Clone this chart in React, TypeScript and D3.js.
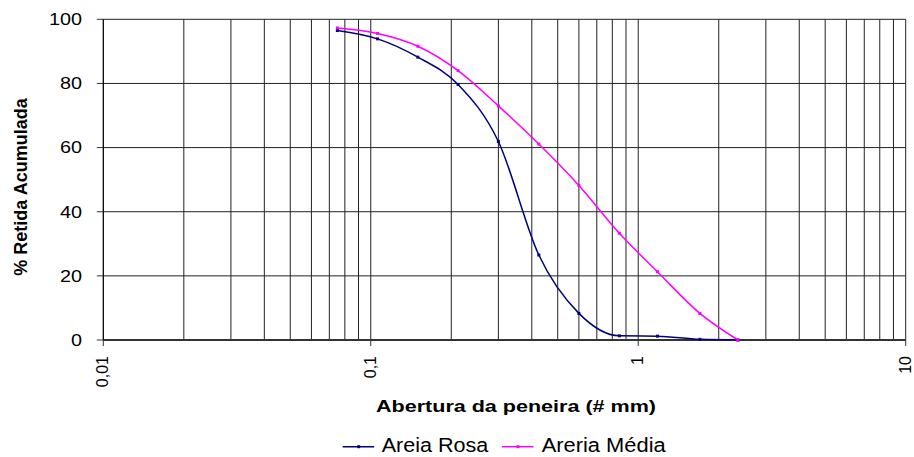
import React from "react";
import * as d3 from "d3";

// sieve openings (mm)
const sieves = [0.075, 0.106, 0.15, 0.212, 0.3, 0.425, 0.6, 0.85, 1.18, 1.7, 2.36];
const areiaRosa = [96.5, 93.9, 88.2, 79.7, 61.9, 26.5, 8.3, 1.3, 1.2, 0.2, 0];
const areiaMedia = [97.3, 95.6, 91.6, 84.0, 73.0, 61.1, 48.2, 33.3, 21.3, 8.3, 0];

const yTicks = [0, 20, 40, 60, 80, 100];
const xMajor = [0.01, 0.1, 1, 10];
const xLabels = ["0,01", "0,1", "1", "10"];

const series = [
  { name: "Areia Rosa", values: areiaRosa, color: "#000080" },
  { name: "Areria Média", values: areiaMedia, color: "#FF00FF" },
];

const W = 914;
const H = 457;
const font = "'Liberation Sans', Arial, Helvetica, sans-serif";

export default function App() {
  const x = d3.scaleLog().domain([0.01, 10]).range([103.3, 905.7]);
  const y = d3.scaleLinear().domain([0, 100]).range([340, 19.3]);

  // every 1..9 multiple in each decade for the log grid
  const grid: number[] = [];
  [0.01, 0.1, 1].forEach((d) => {
    for (let k = 1; k <= 9; k++) grid.push(+(d * k).toPrecision(3));
  });
  grid.push(10);

  const line = d3
    .line<number>()
    .x((_, i) => x(sieves[i]))
    .y((d) => y(d))
    .curve(d3.curveMonotoneX);

  const legend = [
    { lx: 342.7, tx: 381.7, len: 106.6 },
    { lx: 502, tx: 541.7, len: 124 },
  ];

  return (
    <svg
      width={W}
      height={H}
      style={{ position: "absolute", left: 0, top: 0, background: "#fff" }}
      fontFamily={font}
    >
      {/* vertical grid */}
      {grid.map((g) => (
        <line key={"v" + g} x1={x(g)} x2={x(g)} y1={y(100)} y2={y(0)} stroke="#222" strokeWidth={1} />
      ))}
      {/* horizontal grid */}
      {yTicks.map((t) => (
        <line key={"h" + t} x1={x(0.01)} x2={x(10)} y1={y(t)} y2={y(t)} stroke="#222" strokeWidth={1} />
      ))}
      {/* y axis ticks and labels */}
      {yTicks.map((t) => (
        <g key={"yt" + t}>
          <line x1={x(0.01) - 6.5} x2={x(0.01)} y1={y(t)} y2={y(t)} stroke="#333" />
          <text
            x={82}
            y={y(t) + 5.8}
            fontSize={16}
            textAnchor="end"
            textLength={String(t).length * 11}
            lengthAdjust="spacingAndGlyphs"
          >
            {t}
          </text>
        </g>
      ))}
      {/* x axis */}
      <line x1={x(0.01)} x2={x(10)} y1={y(0)} y2={y(0)} stroke="#333" strokeWidth={2} />
      <line x1={x(0.01)} x2={x(0.01)} y1={y(100)} y2={y(0)} stroke="#000" strokeWidth={1} />
      {xMajor.map((m, i) => (
        <g key={"xt" + m}>
          <line x1={x(m)} x2={x(m)} y1={y(0)} y2={y(0) + 6} stroke="#333" />
          <text
            transform={`translate(${x(m) + 5},${356}) rotate(-90)`}
            fontSize={16}
            textAnchor="end"
          >
            {xLabels[i]}
          </text>
        </g>
      ))}
      {/* axis titles */}
      <text
        x={376}
        y={411.5}
        fontSize={16.3}
        fontWeight="bold"
        textLength={280}
        lengthAdjust="spacingAndGlyphs"
      >
        Abertura da peneira (# mm)
      </text>
      <text
        transform="translate(26.5,187) rotate(-90)"
        fontSize={18}
        fontWeight="bold"
        textAnchor="middle"
      >
        % Retida Acumulada
      </text>
      {/* series */}
      {series.map((s) => (
        <g key={s.name}>
          <path d={line(s.values) || ""} fill="none" stroke={s.color} strokeWidth={1.5} />
          {s.values.map((v, i) => (
            <rect
              key={i}
              x={x(sieves[i]) - 1.5}
              y={y(v) - 1.5}
              width={3}
              height={3}
              fill={s.color}
            />
          ))}
        </g>
      ))}
      {/* legend */}
      {series.map((s, i) => (
        <g key={"lg" + s.name}>
          <line
            x1={legend[i].lx}
            x2={legend[i].lx + 31.5}
            y1={446.7}
            y2={446.7}
            stroke={s.color}
            strokeWidth={1.5}
          />
          <rect x={legend[i].lx + 14.5} y={445.2} width={3} height={3} fill={s.color} />
          <text
            x={legend[i].tx}
            y={452.3}
            fontSize={19.5}
            textLength={legend[i].len}
            lengthAdjust="spacingAndGlyphs"
          >
            {s.name}
          </text>
        </g>
      ))}
    </svg>
  );
}
